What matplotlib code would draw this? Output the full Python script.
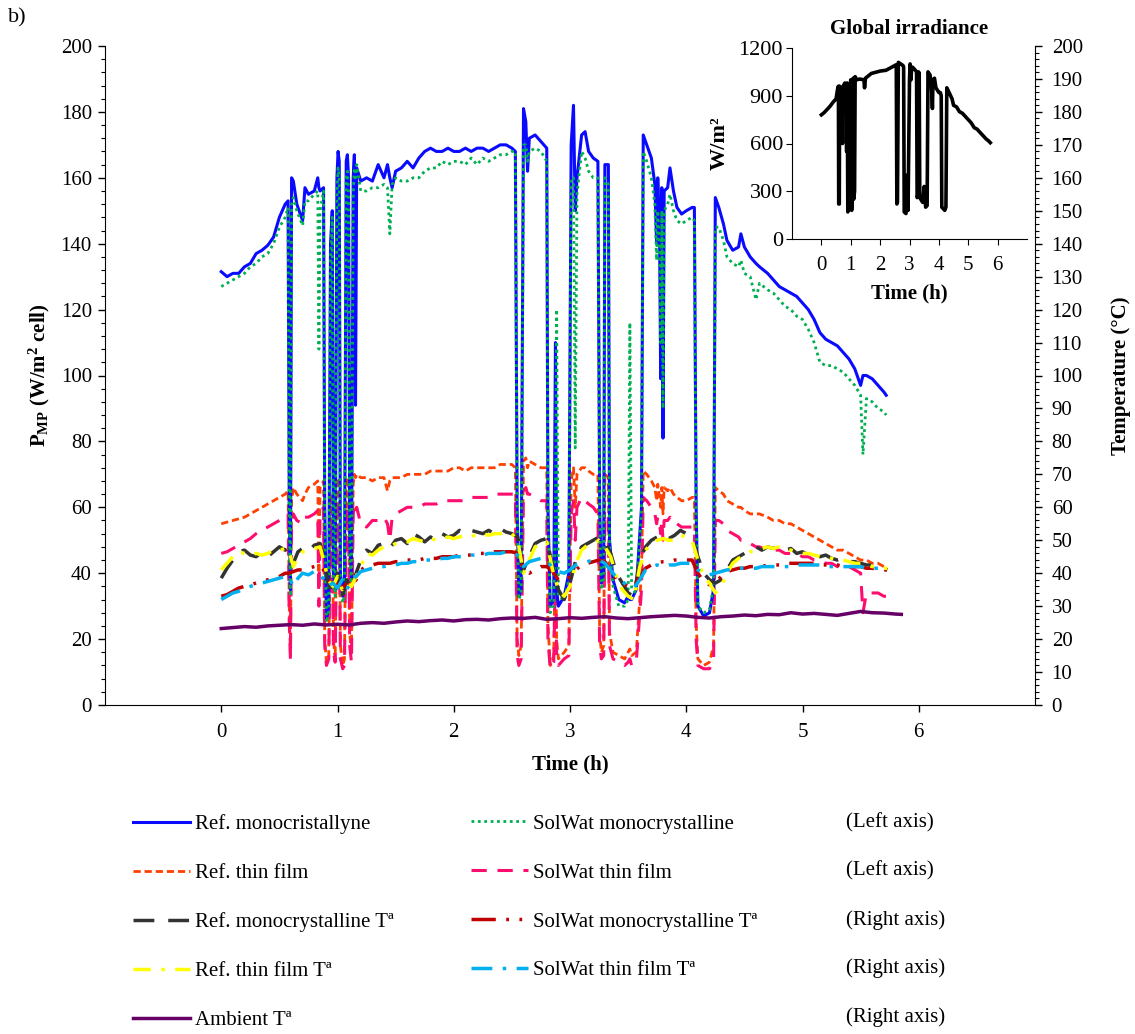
import matplotlib
matplotlib.use("Agg")
import matplotlib.pyplot as plt
from matplotlib.ticker import MultipleLocator

plt.rcParams['font.family'] = ['Liberation Serif', 'DejaVu Serif']
plt.rcParams['mathtext.fontset'] = 'custom'
plt.rcParams['mathtext.rm'] = 'Liberation Serif'
plt.rcParams['mathtext.bf'] = 'Liberation Serif:bold'
plt.rcParams['mathtext.it'] = 'Liberation Serif:italic'

# ---------------- data: power (left axis) ----------------
t_pow = [0.00, 0.05, 0.10, 0.15, 0.20, 0.25, 0.30, 0.35, 0.40, 0.45, 0.50, 0.55, 0.575, 0.585, 0.595, 0.605,
         0.62, 0.65, 0.70, 0.72, 0.75, 0.80, 0.83, 0.84, 0.85, 0.88, 0.89, 0.905, 0.925, 0.94, 0.955, 0.965,
         0.98, 0.995, 1.005, 1.015, 1.025, 1.045, 1.06, 1.075, 1.085, 1.095, 1.105, 1.12, 1.135, 1.145, 1.155,
         1.165, 1.20, 1.25, 1.30, 1.35, 1.40, 1.43, 1.45, 1.47, 1.50, 1.55, 1.60, 1.65, 1.70, 1.75, 1.80, 1.85,
         1.90, 1.95, 2.00, 2.05, 2.10, 2.15, 2.20, 2.25, 2.30, 2.35, 2.40, 2.45, 2.50, 2.53, 2.545, 2.56, 2.58,
         2.60, 2.62, 2.635, 2.65, 2.70, 2.75, 2.80, 2.81, 2.83, 2.86, 2.875, 2.885, 2.90, 2.95, 2.99, 3.01,
         3.03, 3.045, 3.06, 3.10, 3.13, 3.16, 3.20, 3.24, 3.255, 3.27, 3.29, 3.30, 3.33, 3.34, 3.37, 3.42,
         3.47, 3.50, 3.515, 3.53, 3.57, 3.615, 3.63, 3.66, 3.70, 3.73, 3.745, 3.755, 3.77, 3.78, 3.79, 3.80,
         3.81, 3.84, 3.86, 3.89, 3.92, 3.96, 4.00, 4.05, 4.07, 4.085, 4.10, 4.15, 4.20, 4.235, 4.25, 4.28,
         4.32, 4.35, 4.40, 4.45, 4.47, 4.50, 4.55, 4.60, 4.63, 4.70, 4.75, 4.80, 4.85, 4.90, 4.95, 5.00, 5.05,
         5.10, 5.15, 5.20, 5.25, 5.30, 5.35, 5.40, 5.45, 5.50, 5.52, 5.55, 5.60, 5.65, 5.70, 5.72]

ref_mono = [131.5, 130, 131, 131, 133, 134, 137, 138, 139.5, 142, 148, 152, 153, 60, 35, 160,
            159, 152, 147, 157, 155, 156, 160, 157, 156, 157, 60, 26, 30, 140, 150, 40,
            35, 160, 168, 165, 40, 33, 35, 165, 167, 160, 50, 38, 160, 167, 91,
            163, 159, 160, 159, 164, 160, 164, 160, 157, 162, 163, 165, 163, 166, 168, 169, 168,
            168, 169, 168, 168, 169, 168, 169, 169, 168, 169, 170, 170, 169, 168, 60, 33, 35,
            181, 177, 162, 172, 173, 171, 169, 60, 30, 32, 110, 35, 30, 33, 40, 170,
            182, 150, 160, 173, 174, 168, 166, 165, 60, 37, 40, 164, 164, 50, 38, 32,
            31, 33, 32, 32, 35, 60, 173, 170, 166, 158, 140, 160, 145, 99, 157, 81,
            156, 157, 163, 156, 151, 149, 150, 151, 151, 60, 30, 27, 28, 35, 154, 151,
            146, 141, 138, 139, 143, 139, 136, 134, 133, 131, 129, 127, 126, 125, 124, 122, 120,
            117, 113, 111, 110, 109, 107, 105, 102, 97, 100, 100, 99, 97, 95, 94]

sol_mono = [127, 128, 129, 130, 131, 133, 134, 136, 137, 140, 145, 148, 151, 58, 33, 152,
            154, 150, 145.5, 153, 153, 155, 156, 108, 150, 156, 58, 25, 28, 135, 148, 38,
            33, 155, 163, 160, 37, 31, 33, 160, 162, 156, 45, 36, 155, 163, 160,
            164, 156, 156, 157, 157, 158, 157, 143, 158, 160, 159, 159, 160, 160, 162, 163, 163,
            165, 164, 165, 165, 164, 166, 164, 166, 165, 166, 167, 167, 168, 168, 58, 32, 34,
            170, 170, 165, 168, 169, 168, 165, 58, 28, 30, 60, 120, 33, 32, 38, 160,
            160, 78, 155, 168, 166, 162, 160, 160, 58, 35, 38, 160, 158, 48, 36, 30,
            30, 32, 116, 35, 34, 58, 168, 165, 160, 152, 135, 150, 140, 110, 150, 90,
            150, 152, 155, 150, 147, 146, 147, 148, 147, 58, 30, 28, 29, 36, 145, 145,
            141, 136, 134, 133, 135, 131, 130, 123, 128, 126, 125, 123, 121, 120, 118, 117, 114,
            110, 104, 103, 103, 102, 101, 99, 97, 94, 76, 93, 92, 90, 89, 88]

ref_thin = [55, 55.5, 56, 56.5, 57, 58, 59, 60, 61, 62, 63, 64, 65, 30, 15, 62,
            66, 64, 62, 64, 66, 67, 68, 40, 66, 68, 20, 13, 15, 60, 64, 20,
            14, 66, 69, 68, 18, 12, 14, 68, 69, 68, 22, 15, 67, 70, 69,
            70, 69, 69, 68, 69, 69, 65, 68, 69, 69, 69, 70, 70, 70, 70, 71, 71,
            71, 71, 72, 72, 71, 72, 72, 72, 72, 72, 73, 73, 73, 72, 20, 15, 18,
            74, 75, 72, 74, 73, 72, 72, 25, 12, 15, 50, 20, 14, 16, 18, 68,
            72, 60, 70, 72, 72, 71, 70, 70, 22, 16, 18, 70, 69, 22, 16, 15,
            14, 16, 17, 15, 16, 40, 71, 70, 68, 66, 62, 67, 63, 60, 66, 58,
            66, 65, 66, 64, 63, 62, 62, 63, 63, 25, 14, 12, 13, 18, 66, 65,
            64, 62, 61, 60, 60, 59, 58, 58, 58, 57, 56, 56, 55, 55, 54, 53, 52,
            51, 50, 49, 48, 47, 47, 46, 45, 44, 44, 44, 43, 43, 42, 42]

sol_thin = [46, 46.5, 47.5, 48.5, 49.5, 50.5, 52, 53, 54, 55, 56, 57, 58, 25, 14, 55,
            58, 56, 55, 57, 57, 58, 59, 30, 58, 60, 18, 12, 14, 52, 56, 16,
            13, 58, 60, 59, 14, 11, 12, 58, 60, 59, 18, 13, 58, 60, 58,
            60, 55, 54, 56, 56, 57, 55, 50, 57, 58, 59, 60, 60, 60, 61, 61, 61,
            62, 62, 62, 62, 62, 63, 63, 63, 63, 64, 64, 64, 64, 64, 15, 12, 14,
            65, 66, 64, 64, 63, 62, 62, 20, 11, 13, 40, 15, 12, 14, 15, 58,
            62, 50, 60, 63, 62, 61, 60, 58, 18, 14, 15, 58, 57, 18, 14, 13,
            12, 13, 14, 12, 13, 35, 63, 62, 60, 58, 55, 57, 55, 52, 56, 50,
            56, 56, 57, 55, 55, 54, 54, 54, 54, 20, 12, 11, 11, 14, 56, 56,
            55, 53, 52, 51, 50, 50, 49, 48, 48, 47, 47, 47, 46, 46, 46, 45, 45,
            44, 44, 43, 43, 42, 42, 42, 41, 40, 28, 34, 34, 34, 33, 33]

# ---------------- data: temperatures (right axis) ----------------
t_temp = [0.00, 0.05, 0.10, 0.15, 0.20, 0.25, 0.30, 0.35, 0.40, 0.45, 0.50, 0.55, 0.58, 0.62, 0.66, 0.70,
          0.75, 0.80, 0.85, 0.88, 0.92, 0.96, 1.00, 1.04, 1.08, 1.12, 1.16, 1.20, 1.25, 1.30, 1.35, 1.40,
          1.45, 1.50, 1.55, 1.60, 1.65, 1.70, 1.75, 1.80, 1.85, 1.90, 1.95, 2.00, 2.05, 2.10, 2.15, 2.20,
          2.25, 2.30, 2.35, 2.40, 2.45, 2.50, 2.55, 2.60, 2.65, 2.70, 2.75, 2.80, 2.85, 2.90, 2.95, 3.00,
          3.05, 3.10, 3.15, 3.20, 3.25, 3.30, 3.35, 3.40, 3.45, 3.50, 3.55, 3.60, 3.65, 3.70, 3.75, 3.80,
          3.85, 3.90, 3.95, 4.00, 4.05, 4.10, 4.15, 4.20, 4.25, 4.30, 4.35, 4.40, 4.45, 4.50, 4.55, 4.60,
          4.65, 4.70, 4.75, 4.80, 4.85, 4.90, 4.95, 5.00, 5.05, 5.10, 5.15, 5.20, 5.25, 5.30, 5.35, 5.40,
          5.45, 5.50, 5.55, 5.60, 5.65, 5.70, 5.73]

ref_mono_T = [38.5, 41.5, 44, 46.5, 47, 45.5, 45, 46.5, 45, 46.5, 48, 47, 47.5, 43, 46.5, 47.5,
              46.5, 48.5, 49, 45, 37, 34, 40, 33, 38, 35, 40, 44, 47, 46, 48.5, 49,
              47.5, 50, 50.5, 49, 52, 51, 49.5, 51, 50, 52, 51, 51.5, 53, 52, 53, 52.5,
              52, 53, 52, 53.5, 52.5, 52, 51, 41, 45, 49, 50, 50.5, 42, 35, 32, 37,
              44, 48, 49, 50, 51, 49.5, 46, 40, 37, 34, 33, 44, 48, 50, 51, 52,
              50.5, 51.5, 53, 52, 51, 45, 40, 38, 37, 38, 41, 44, 45, 46, 47, 48,
              47, 48, 47.5, 48, 47, 47.5, 46, 46.5, 45.5, 46, 45, 45.5, 44.5, 44, 44.5, 43.5,
              43.5, 43, 42.5, 42.5, 42, 41.5, 41]

ref_thin_T = [41, 43, 45, 46.5, 46, 45.5, 46, 45.5, 46, 47, 47, 47.5, 47, 42, 45, 46.5,
              47, 47.5, 48, 44, 38, 36, 39, 35, 37, 36, 39, 42, 46, 45.5, 47, 48,
              48, 49, 49.5, 49.5, 50.5, 50, 49.5, 50.5, 50, 50.5, 51, 50.5, 51, 51.5, 51, 52,
              52, 51.5, 52, 52, 52.5, 52, 50, 40, 44, 48, 49, 49.5, 41, 35, 33, 36,
              43, 47, 48.5, 49, 50, 48, 45, 39, 35, 33, 32, 42, 47, 49, 50, 50.5,
              50, 50, 51.5, 51, 50, 44, 39, 37, 34, 36, 40, 43, 44.5, 45.5, 46.5, 47,
              47.5, 48, 47.5, 48, 47.5, 47, 46.5, 46, 46, 45.5, 45, 45, 44.5, 44, 44, 43.5,
              43, 43, 42.5, 42, 42, 41.5, 41.5]

sol_mono_T = [33, 33.5, 34.5, 35.5, 36, 36.5, 37, 37.5, 38, 38.5, 39, 40, 40, 40.5, 41, 41,
              41.5, 42, 42.5, 41, 38, 36.5, 37, 35.5, 37, 36.5, 38, 41, 42, 42.5, 43, 43,
              43, 43.5, 43.5, 44, 44, 44, 44.5, 44.5, 44.5, 45, 45, 45, 45.5, 45.5, 45.5, 46,
              46, 46, 46.5, 46.5, 46.5, 46.5, 46, 41, 40, 41, 42, 42, 40.5, 38, 37.5, 39,
              41, 42.5, 43, 43.5, 44, 43.5, 41, 38, 37, 36, 36, 39, 41.5, 42.5, 43, 43.5,
              43.5, 44, 44, 44, 44, 40, 37.5, 36.5, 37, 39, 40.5, 41, 41.5, 41.5, 42, 42,
              42, 42.5, 42.5, 42.5, 43, 43, 43, 43, 43, 43, 42.5, 42.5, 42.5, 42.5, 42, 42,
              42, 42, 41.5, 41.5, 41, 41, 41]

sol_thin_T = [32, 33, 34, 34.5, 35.5, 36, 36.5, 37, 37.5, 38, 38.5, 39, 39, 36, 38.5, 40,
              39.5, 40.5, 40, 38, 36, 37, 35.5, 38, 35, 38, 39, 40.5, 41, 41.5, 42, 42,
              42.5, 42.5, 43, 43, 43.5, 43.5, 44, 44, 44, 44.5, 44.5, 45, 45, 45, 45.5, 45.5,
              45.5, 46, 46, 46, 46.5, 46, 45.5, 42, 43.5, 44, 44.5, 44, 41.5, 40.5, 40, 41,
              42.5, 43, 43.5, 44, 44, 43, 41, 38.5, 37.5, 36, 35.5, 38, 41, 42, 42.5, 42,
              42.5, 42.5, 43, 43, 43, 41, 40, 39.5, 40, 40.5, 41, 41, 41.5, 41.5, 41.5, 41.5,
              42, 42, 42, 42, 42, 42, 42.5, 42.5, 42.5, 42.5, 42.5, 42, 42, 42, 42, 42,
              42, 42, 41.5, 41.5, 41.5, 41, 41]

t_amb = [0.0, 0.1, 0.2, 0.3, 0.4, 0.5, 0.6, 0.7, 0.8, 0.9, 1.0, 1.1, 1.2, 1.3, 1.4, 1.5, 1.6, 1.7, 1.8,
         1.9, 2.0, 2.1, 2.2, 2.3, 2.4, 2.5, 2.6, 2.7, 2.8, 2.9, 3.0, 3.1, 3.2, 3.3, 3.4, 3.5, 3.6, 3.7,
         3.8, 3.9, 4.0, 4.1, 4.2, 4.3, 4.4, 4.5, 4.6, 4.7, 4.8, 4.9, 5.0, 5.1, 5.2, 5.3, 5.4, 5.5, 5.6,
         5.7, 5.8, 5.85]
ambient_T = [23.2, 23.5, 23.8, 23.6, 24.0, 24.2, 24.4, 24.2, 24.6, 24.3, 24.5, 24.3, 24.8, 25.0, 24.8,
             25.2, 25.5, 25.3, 25.6, 25.8, 25.5, 25.9, 26.0, 25.8, 26.2, 26.4, 26.3, 26.6, 26.0, 26.2,
             26.5, 26.3, 26.6, 26.8, 26.4, 26.2, 26.5, 26.8, 27.0, 27.2, 27.0, 26.6, 26.4, 26.8, 27.0,
             27.3, 27.1, 27.5, 27.4, 28.0, 27.6, 27.8, 27.5, 27.2, 27.8, 28.4, 28.0, 27.9, 27.6, 27.5]

# ---------------- data: global irradiance (inset) ----------------
t_irr = [0.0, 0.1, 0.2, 0.3, 0.4, 0.5, 0.55, 0.58, 0.59, 0.61, 0.62, 0.7, 0.72, 0.74, 0.8, 0.85, 0.86,
         0.88, 0.9, 0.93, 0.95, 0.97, 1.0, 1.03, 1.06, 1.08, 1.1, 1.13, 1.15, 1.2, 1.3, 1.45, 1.47, 1.5,
         1.7, 1.9, 2.0, 2.2, 2.4, 2.5, 2.55, 2.57, 2.59, 2.62, 2.7, 2.78, 2.8, 2.82, 2.88, 2.9, 2.95,
         3.0, 3.02, 3.05, 3.07, 3.1, 3.2, 3.24, 3.26, 3.29, 3.31, 3.33, 3.35, 3.45, 3.5, 3.55, 3.6,
         3.63, 3.7, 3.75, 3.78, 3.8, 3.85, 3.9, 4.0, 4.05, 4.08, 4.1, 4.2, 4.24, 4.27, 4.35, 4.45,
         4.5, 4.6, 4.7, 4.8, 4.9, 5.0, 5.1, 5.2, 5.3, 5.4, 5.5, 5.6, 5.7, 5.75]
irradiance = [780, 795, 815, 835, 860, 880, 940, 960, 220, 220, 960, 930, 600, 960, 980, 950, 550,
              980, 170, 250, 950, 200, 1000, 180, 300, 1010, 250, 300, 1020, 1000, 1005, 1000, 950, 1010,
              1040, 1050, 1055, 1060, 1080, 1090, 1095, 220, 230, 1110, 1100, 1090, 1080, 170, 160, 400, 180,
              1000, 1100, 1000, 1070, 1080, 1060, 1050, 260, 280, 1050, 1040, 260, 230, 330, 200, 210,
              1050, 1030, 960, 820, 1000, 1010, 950, 920, 920, 900, 200, 180, 200, 950, 920, 880,
              840, 830, 800, 790, 770, 750, 730, 700, 690, 670, 650, 630, 615, 605]

x_ticks = [0, 1, 2, 3, 4, 5, 6]

# ---------------- figure ----------------
W, H = 1135, 1034
fig = plt.figure(figsize=(W / 100, H / 100), dpi=100)
fig.patch.set_facecolor('white')

def fx(px):
    return px / W

def fy(py):
    return 1 - py / H

ax = fig.add_axes([fx(105), fy(705), fx(1035) - fx(105), fy(46) - fy(705)])
ax2 = ax.twinx()

FS = 15

l_ref_mono, = ax.plot(t_pow, ref_mono, color='#0a0aff', lw=2.2, label='Ref. monocristallyne', zorder=4)
l_sol_mono, = ax.plot(t_pow, sol_mono, color='#00b050', lw=2.0, ls=(0, (1, 1.3)), label='SolWat monocrystalline', zorder=5)
l_ref_thin, = ax.plot(t_pow, ref_thin, color='#ff4000', lw=2.0, ls=(0, (2.6, 1.4)), label='Ref. thin film', zorder=3)
l_sol_thin, = ax.plot(t_pow, sol_thin, color='#ff0d6e', lw=2.2, ls=(0, (5, 3.5)), label='SolWat thin film', zorder=3)

l_ref_mono_T, = ax2.plot(t_temp, ref_mono_T, color='#333333', lw=2.5, ls=(0, (6, 4)), label='Ref. monocrystalline Tª')
l_sol_mono_T, = ax2.plot(t_temp, sol_mono_T, color='#c00000', lw=2.5, ls=(0, (7, 3, 0.8, 3, 0.8, 3)), label='SolWat monocrystalline Tª')
l_ref_thin_T, = ax2.plot(t_temp, ref_thin_T, color='#ffff00', lw=2.5, ls=(0, (5, 3, 1, 3)), label='Ref. thin film Tª')
l_sol_thin_T, = ax2.plot(t_temp, sol_thin_T, color='#00b0f0', lw=2.5, ls=(0, (6, 3, 1, 3)), label='SolWat thin film Tª')
l_amb, = ax2.plot(t_amb, ambient_T, color='#660066', lw=2.5, label='Ambient Tª')

for a in (ax, ax2):
    a.set_xlim(-1, 7)
    a.set_ylim(0, 200)
    a.spines['top'].set_visible(False)
    a.tick_params(labelsize=FS, direction='out', length=5, width=1)
    a.tick_params(which='minor', direction='out', length=3, width=0.8)
ax.spines['right'].set_visible(False)
ax2.spines['left'].set_visible(False)
ax2.spines['bottom'].set_visible(False)
ax.tick_params(axis='x', pad=8)
ax.tick_params(axis='y', pad=4.5)
ax2.tick_params(axis='y', pad=7)

ax.set_xticks(x_ticks)
ax.yaxis.set_major_locator(MultipleLocator(20))
ax.yaxis.set_minor_locator(MultipleLocator(4))
ax2.yaxis.set_major_locator(MultipleLocator(10))
ax2.yaxis.set_minor_locator(MultipleLocator(2))

ax.set_xlabel('Time (h)', fontsize=FS, fontweight='bold', labelpad=9)
ax.set_ylabel(r'P$_{\mathbf{MP}}$ (W/m$^{\mathbf{2}}$ cell)', fontsize=FS, fontweight='bold', labelpad=6)
ax2.set_ylabel('Temperature (°C)', fontsize=FS, fontweight='bold', labelpad=20)

# ---------------- inset ----------------
axi = fig.add_axes([fx(792), fy(239), fx(1027) - fx(792), fy(48) - fy(239)])
axi.set_facecolor('white')
axi.plot(t_irr, irradiance, color='black', lw=2.6)
axi.set_xlim(-1, 7)
axi.set_ylim(0, 1200)
axi.set_xticks(x_ticks)
axi.set_yticks([0, 300, 600, 900, 1200])
axi.spines['top'].set_visible(False)
axi.spines['right'].set_visible(False)
axi.tick_params(direction='out', length=4.5)
axi.tick_params(axis='x', labelsize=FS, pad=8)
axi.tick_params(axis='y', labelsize=16, pad=2)
axi.set_title('Global irradiance', fontsize=FS, fontweight='bold', pad=10)
axi.set_xlabel('Time (h)', fontsize=FS, fontweight='bold', labelpad=6)
axi.set_ylabel('W/m²', fontsize=16, fontweight='bold', labelpad=6)

# ---------------- legend ----------------
LFS = 15
leg_kw = dict(frameon=False, fontsize=LFS, handlelength=2.74, handletextpad=0.24,
              labelspacing=1.41, borderpad=0, borderaxespad=0, loc='upper left')
leg1 = fig.legend(handles=[l_ref_mono, l_ref_thin, l_ref_mono_T, l_ref_thin_T, l_amb],
                  bbox_to_anchor=(fx(133), fy(814)), **leg_kw)
leg2 = fig.legend(handles=[l_sol_mono, l_sol_thin, l_sol_mono_T, l_sol_thin_T],
                  bbox_to_anchor=(fx(471), fy(814)), **leg_kw)

axis_notes = ['(Left axis)', '(Left axis)', '(Right axis)', '(Right axis)', '(Right axis)']
row_y = [823, 871, 920, 968, 1017]
for note, ry in zip(axis_notes, row_y):
    fig.text(fx(846), fy(ry), note, fontsize=LFS, va='center', ha='left')

fig.text(fx(8), fy(18), 'b)', fontsize=16, va='center', ha='left')

fig.savefig('out.png', dpi=100, facecolor='white')
